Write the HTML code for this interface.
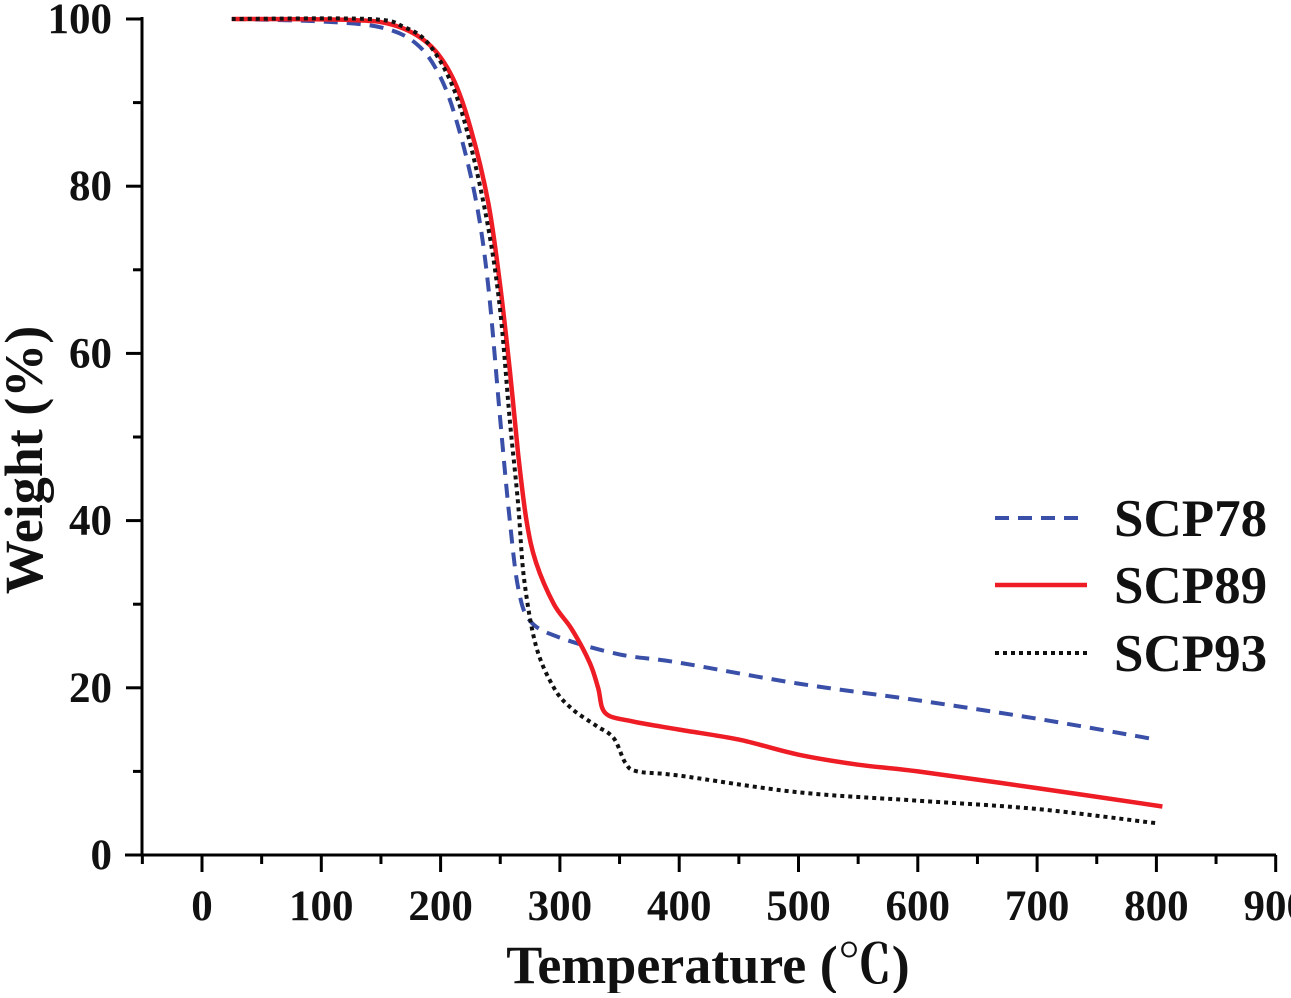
<!DOCTYPE html>
<html><head><meta charset="utf-8"><style>
body{margin:0;background:#fff}
svg text{font-family:"Liberation Serif","Noto Serif CJK SC",serif;font-weight:bold;fill:#111}
</style></head><body>
<svg id="c" width="1291" height="993" xmlns="http://www.w3.org/2000/svg"></svg>
<script>
const xTicks=[0,100,200,300,400,500,600,700,800,900];
const yTicks=[0,20,40,60,80,100];
const s78x=[25,100,150,180,200,215,230,240,250,258,265,275,300,350,400,500,600,700,800];
const s78y=[100,99.7,99,97,93,87,78,68,52,40,32,28,26,24,23,20.5,18.5,16.3,13.8];
const s89x=[25,120,160,190,210,225,240,250,258,265,272,280,295,310,325,332,338,360,400,450,500,550,600,700,805];
const s89y=[100,99.9,99.3,97,93,87,78,68,58,48,40,35,30,27,23,20,17,16,15,13.8,12,10.8,10,8,5.8];
const s93x=[25,140,170,190,210,225,240,250,258,265,270,280,295,310,330,345,355,365,400,500,600,700,800];
const s93y=[100,100,99,97,92,85,75,65,52,42,33,25,20,17.5,15.5,14,11,10,9.5,7.5,6.5,5.5,3.8];
const svg=document.getElementById('c');const NS='http://www.w3.org/2000/svg';
const X=v=>202+v*1.193, Y=v=>855-v*8.36;
function mk(t,a,p){const e=document.createElementNS(NS,t);for(const k in a)e.setAttribute(k,a[k]);(p||svg).appendChild(e);return e;}
function smooth(xs,ys){const P=xs.map((x,i)=>[X(x),Y(ys[i])]);let d='M'+P[0][0].toFixed(1)+','+P[0][1].toFixed(1);
for(let i=0;i<P.length-1;i++){const p0=P[Math.max(0,i-1)],p1=P[i],p2=P[i+1],p3=P[Math.min(P.length-1,i+2)];
const c1=[p1[0]+(p2[0]-p0[0])/6,p1[1]+(p2[1]-p0[1])/6],c2=[p2[0]-(p3[0]-p1[0])/6,p2[1]-(p3[1]-p1[1])/6];
d+='C'+c1.map(v=>v.toFixed(1))+' '+c2.map(v=>v.toFixed(1))+' '+p2.map(v=>v.toFixed(1));}return d;}
let ax=mk('line',{x1:125,y1:855,x2:1276,y2:855,stroke:'#000','stroke-width':3});


let ay=mk('line',{x1:142,y1:855,x2:142,y2:17,stroke:'#000','stroke-width':3});


for(let v=-50;v<=900;v+=50){const maj=v%100===0;mk('line',{x1:X(v),y1:855,x2:X(v),y2:855+(maj?17:9),stroke:'#000','stroke-width':3});}
xTicks.forEach(v=>{const t=mk('text',{x:X(v),y:920,'text-anchor':'middle','font-size':43});t.textContent=v;

});
for(let v=0;v<=100;v+=10){const maj=v%20===0;mk('line',{x1:142,y1:Y(v),x2:142-(maj?16:9),y2:Y(v),stroke:'#000','stroke-width':3});}
yTicks.forEach(v=>{const t=mk('text',{x:112,y:Y(v)+14,'text-anchor':'end','font-size':43});t.textContent=v;

});
const series=[[s78x,s78y,'#3a4fa8','14,9',4,'scp78-line'],[s89x,s89y,'#ee1c24','',4.5,'scp89-line'],[s93x,s93y,'#111','4,4',4,'scp93-line']];
series.forEach(s=>{const d=smooth(s[0],s[1]);
const p=mk('path',{d:d,fill:'none',stroke:s[2],'stroke-width':s[4],'stroke-dasharray':s[3],'stroke-linejoin':'round'});

});
const names=['SCP78','SCP89','SCP93'],ly=[518,585,653];
series.forEach((s,i)=>{const g=mk('g',{});


mk('line',{x1:995,y1:ly[i],x2:1087,y2:ly[i],stroke:s[2],'stroke-width':s[4],'stroke-dasharray':s[3]},g);
const t=mk('text',{x:1114,y:ly[i]+18,'font-size':53},g);t.textContent=names[i];});
const xt=mk('text',{x:708,y:983,'text-anchor':'middle','font-size':54});xt.textContent='Temperature (℃)';


const yt=mk('text',{x:0,y:0,'text-anchor':'middle','font-size':54,transform:'translate(42,460) rotate(-90)'});yt.textContent='Weight (%)';


</script>
</body></html>
